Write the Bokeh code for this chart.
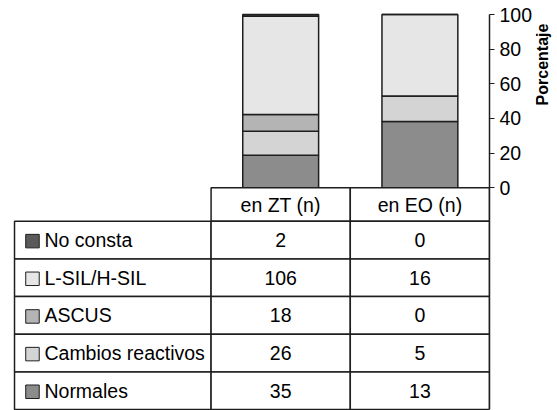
import numpy as np
from bokeh.plotting import figure
from bokeh.layouts import row
from bokeh.models import ColumnDataSource, Range1d, FixedTicker
from bokeh.core.properties import value
from bokeh.embed import file_html
from bokeh.resources import INLINE

# ---- data ----
categories = ["en ZT (n)", "en EO (n)"]
series = ["Normales", "Cambios reactivos", "ASCUS", "L-SIL/H-SIL", "No consta"]  # stack order, bottom -> top
normales = [35, 13]
cambios_reactivos = [26, 5]
ascus = [18, 0]
lsil_hsil = [106, 16]
no_consta = [2, 0]
colors = ["#8c8c8c", "#d4d4d4", "#b4b4b4", "#e6e6e6", "#5a5a5a"]
y_ticks = [0, 20, 40, 60, 80, 100]
y_label = "Porcentaje"

counts = [normales, cambios_reactivos, ascus, lsil_hsil, no_consta]
totals = np.sum(np.array(counts, dtype=float), axis=0)
xpos = np.arange(len(categories)) + 0.5
data = {"x": xpos}
for name, c in zip(series, counts):
    data[name] = 100.0 * np.array(c, dtype=float) / totals
src = ColumnDataSource(data)

FONT = "Liberation Sans"
FS = "19.5px"
LINE = "#1e1e1e"

# layout (style) constants, in data units
label_col_left = -1.412
header_h = 19.3
row_h = 21.73
table_bottom = -header_h - row_h * len(series)

yr = Range1d(-128.5, 102.31)
p = figure(width=535, height=410, output_backend="svg", toolbar_location=None,
           x_range=Range1d(-1.4265, 2), y_range=yr,
           x_axis_location=None, y_axis_location="right",
           min_border_left=12, min_border_right=45, min_border_top=10, min_border_bottom=0)
p.title.visible = False
p.outline_line_color = None
p.grid.visible = False
p.background_fill_color = "white"
p.border_fill_color = "white"

# ---- stacked bars ----
p.vbar_stack(series, x="x", width=0.545, source=src, fill_color=colors,
             line_color=LINE, line_width=1.5)

# ---- right axis ----
ax = p.yaxis[0]
ax.ticker = FixedTicker(ticks=y_ticks)
ax.bounds = (table_bottom, 100)
ax.major_tick_out = 5
ax.major_tick_in = 0
ax.minor_tick_out = 0
ax.minor_tick_in = 0
ax.major_tick_line_color = LINE
ax.major_tick_line_width = 1.2
ax.axis_line_color = LINE
ax.axis_line_width = 1.5
ax.major_label_text_font = FONT
ax.major_label_text_font_size = FS
ax.major_label_text_color = "black"
ax.major_label_standoff = 5

# ---- data table ----
ncat = len(categories)
p.quad(left=list(range(ncat)), right=[i + 1 for i in range(ncat)],
       top=[0] * ncat, bottom=[-header_h] * ncat,
       fill_color="white", line_color=LINE, line_width=1.5)
p.text(x=list(xpos), y=[-header_h / 2] * ncat, text=categories,
       text_font=value(FONT), text_font_size=FS, text_color="black",
       text_align="center", text_baseline="middle")

rows = list(reversed(series))
row_counts = list(reversed(counts))
row_colors = list(reversed(colors))
tops = [-header_h - row_h * i for i in range(len(rows))]
bots = [t - row_h for t in tops]
mids = [t - row_h / 2 for t in tops]

p.quad(left=[label_col_left] * len(rows), right=[0] * len(rows), top=tops, bottom=bots,
       fill_color="white", line_color=LINE, line_width=1.5)
for j in range(ncat):
    p.quad(left=[j] * len(rows), right=[j + 1] * len(rows), top=tops, bottom=bots,
           fill_color="white", line_color=LINE, line_width=1.5)
    p.text(x=[xpos[j]] * len(rows), y=mids, text=[str(rc[j]) for rc in row_counts],
           text_font=value(FONT), text_font_size=FS, text_color="black",
           text_align="center", text_baseline="middle")

p.scatter(x=[-1.283] * len(rows), y=[m - 0.6 for m in mids], marker="square", size=13.5,
          fill_color=row_colors, line_color=LINE, line_width=1)
p.text(x=[-1.197] * len(rows), y=mids, text=rows,
       text_font=value(FONT), text_font_size=FS, text_color="black",
       text_align="left", text_baseline="middle")

# ---- axis title strip (shares the vertical scale) ----
q = figure(width=22, height=410, output_backend="svg", toolbar_location=None,
           x_range=Range1d(0, 1), y_range=yr, x_axis_location=None, y_axis_location=None,
           min_border_left=0, min_border_right=0, min_border_top=10, min_border_bottom=0)
q.title.visible = False
q.outline_line_color = None
q.grid.visible = False
q.background_fill_color = "white"
q.border_fill_color = "white"
q.text(x=[0.318], y=[71.15], text=[y_label], angle=np.pi / 2,
       text_font=value(FONT), text_font_style="bold", text_font_size="16px",
       text_color="black", text_align="center", text_baseline="middle")

layout = row(p, q, spacing=0)
open("out.html", "w").write(file_html(layout, INLINE))
